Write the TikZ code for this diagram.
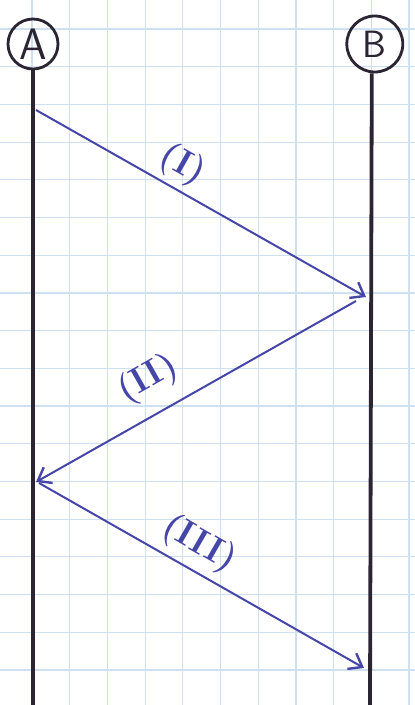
\documentclass[tikz,border=0pt]{standalone}
\usepackage{xcolor}
\usepackage{tikz}
\usetikzlibrary{arrows.meta,positioning}

\definecolor{pen}{HTML}{2B2433}
\definecolor{ink}{HTML}{4646A8}
\definecolor{paper}{HTML}{CFE0F0}

\begin{document}
\begin{tikzpicture}[x=1pt, y=-1pt, font=\sffamily]
\useasboundingbox (0,0) rectangle (415,705);
\fill[white] (0,0) rectangle (415,705);
% graph paper
\foreach \i in {-1,...,10} \draw[paper, line width=1.2pt] ({32+37.7*\i},0) -- ({32+37.7*\i},705);
\foreach \j in {-1,...,18} \draw[paper, line width=1.2pt] (0,{29+37.7*\j}) -- (415,{29+37.7*\j});

\node[draw=pen, circle, line width=2.8pt, minimum size=50pt, inner sep=0pt, text=pen, font=\sffamily\fontsize{44}{44}\selectfont] (a) at (33,44) {A};
\node[draw=pen, circle, line width=2.8pt, minimum size=56pt, inner sep=0pt, text=pen, font=\sffamily\fontsize{38}{38}\selectfont, right=286pt of a] (b) {B};

\coordinate (aend) at (33,705);
\coordinate (bend) at (370,705);
\draw[pen, line width=3.8pt] (a.south) -- (aend);
\draw[pen, line width=3.8pt] (b.south) ++(-3,0) coordinate (btop) -- (bend);

\coordinate (a1) at (36,110);
\coordinate (b1) at (366,297);
\coordinate (a2) at (36,482);
\coordinate (b2) at (364,668);

\draw[ink, line width=2pt, -{Straight Barb[length=12pt, width=18pt, line width=2.4pt]}] (a1) -- (b1);
\draw[ink, line width=2pt, -{Straight Barb[length=12pt, width=18pt, line width=2.4pt]}] (b1) ++(-10,4) coordinate (b1s) -- (a2);
\draw[ink, line width=2pt, -{Straight Barb[length=12pt, width=18pt, line width=2.4pt]}] (a2) ++(3,1) coordinate (a2s) -- (b2);

\node[text=ink, rotate=-29.5, font=\bfseries\fontsize{36}{36}\selectfont] (l1) at (182,165) {(I)};
\node[text=ink, rotate=29.6, font=\bfseries\fontsize{36}{36}\selectfont] (l2) at (148,379) {(II)};
\node[text=ink, rotate=-30, font=\bfseries\fontsize{36}{36}\selectfont] (l3) at (199,544) {(III)};
\end{tikzpicture}
\end{document}
